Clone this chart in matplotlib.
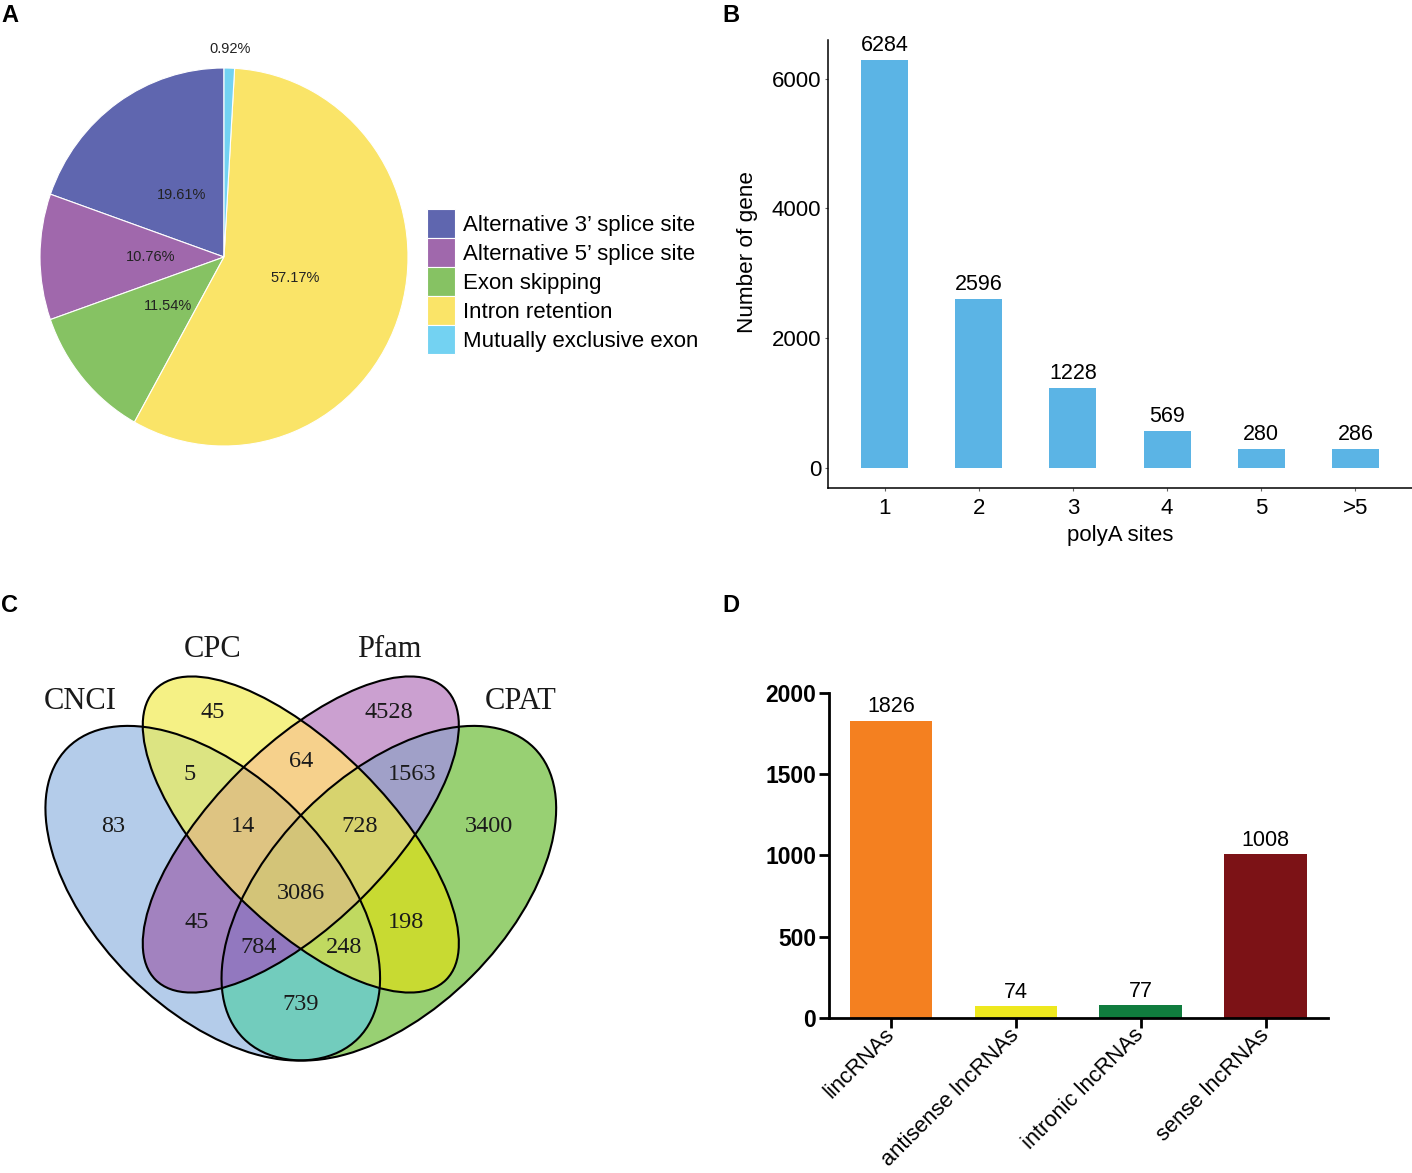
import numpy as np
import matplotlib
matplotlib.use('Agg')
import matplotlib.pyplot as plt
from matplotlib.patches import Ellipse
from matplotlib.colors import to_rgba

W, H, DPI = 1412, 1173, 100
plt.rcParams['font.family'] = ['Liberation Sans', 'DejaVu Sans']

# ---------------- data ----------------
as_types = ['Alternative 3\u2019 splice site', 'Alternative 5\u2019 splice site',
            'Exon skipping', 'Intron retention', 'Mutually exclusive exon']
as_percent = [19.61, 10.76, 11.54, 57.17, 0.92]

polya_sites = ['1', '2', '3', '4', '5', '>5']
polya_genes = [6284, 2596, 1228, 569, 280, 286]

venn_sets = ['CNCI', 'CPC', 'Pfam', 'CPAT']
venn_regions = ['1000', '0100', '0010', '0001', '1100', '0110', '0011', '1010',
                '0101', '1001', '1110', '0111', '1011', '1101', '1111']
venn_counts = [83, 45, 4528, 3400, 5, 64, 1563, 45, 198, 739, 14, 728, 784, 248, 3086]

lnc_types = ['lincRNAs', 'antisense lncRNAs', 'intronic lncRNAs', 'sense lncRNAs']
lnc_counts = [1826, 74, 77, 1008]

# ---------------- style ----------------
as_colors = ['#5F66AF', '#A068AC', '#86C263', '#FAE468', '#73D2F2']
polya_color = '#5BB4E5'
lnc_colors = ['#F48020', '#EEE81E', '#107C3E', '#7C1216']
region_colors = {
    '1000': '#B5CCEB', '0100': '#F5F185', '0010': '#CBA0D0', '0001': '#98D073',
    '1100': '#DCE482', '0110': '#F6D28C', '0011': '#A0A0C8', '1010': '#A282BF',
    '0101': '#C8DA32', '1001': '#72CCBD', '1110': '#DEC482', '0111': '#D8D46E',
    '1111': '#D4C478', '1011': '#9279BF', '1101': '#C0D960',
}
# VennDiagram quad layout (unit coordinates)
ell_centers = [(0.35, 0.47), (0.50, 0.57), (0.50, 0.57), (0.65, 0.47)]
ell_a = [0.35, 0.35, 0.35, 0.35]
ell_b = [0.20, 0.15, 0.15, 0.20]
ell_angle = [135, 135, 45, 45]
region_label_pos = {
    '1000': (0.18, 0.583), '0100': (0.35, 0.777), '0010': (0.65, 0.777), '0001': (0.82, 0.583),
    '1100': (0.31, 0.673), '0110': (0.50, 0.694), '0011': (0.69, 0.673), '1010': (0.322, 0.42),
    '0101': (0.68, 0.42), '1001': (0.50, 0.281), '1110': (0.402, 0.583), '0111': (0.60, 0.583),
    '1011': (0.428, 0.378), '1101': (0.574, 0.378), '1111': (0.50, 0.47),
}
set_label_pos = [(0.124, 0.796), (0.350, 0.885), (0.650, 0.885), (0.874, 0.796)]

fig = plt.figure(figsize=(W / DPI, H / DPI), dpi=DPI)
fig.patch.set_facecolor('white')


def px_axes(x0, y0, x1, y1):
    return fig.add_axes([x0 / W, 1 - y1 / H, (x1 - x0) / W, (y1 - y0) / H])


# ---------------- Panel A: pie ----------------
axA = px_axes(40, 68, 408, 446)
wedges, _ = axA.pie(as_percent, colors=as_colors, startangle=90, counterclock=True,
                    wedgeprops=dict(edgecolor='white', linewidth=0.8))
axA.set_aspect('auto')
axA.set_xlim(-1, 1)
axA.set_ylim(-1, 1)
axA.axis('off')
cum = 0.0
for p in as_percent:
    mid = np.deg2rad(90 + 360 * (cum + p / 2) / 100.0)
    r = 0.4 if p > 5 else 1.1
    axA.text(r * np.cos(mid), r * np.sin(mid), f'{p:.2f}%', ha='center', va='center',
             fontsize=10.5, color='#222222')
    cum += p

fig.legend(wedges, as_types, loc='upper left', bbox_to_anchor=(427 / W, 1 - 209 / H),
           bbox_transform=fig.transFigure, frameon=False, borderpad=0, borderaxespad=0,
           handlelength=1.26, handleheight=1.6, handletextpad=0.36, labelspacing=0.02,
           fontsize=16)

# ---------------- Panel B: polyA bars ----------------
axB = px_axes(828, 40, 1412, 488)
xb = np.arange(1, len(polya_genes) + 1)
axB.bar(xb, polya_genes, width=0.5, color=polya_color)
ymax = max(polya_genes)
axB.set_ylim(-0.05 * ymax, 1.05 * ymax)
axB.set_xlim(0.4, len(polya_genes) + 0.6)
axB.set_yticks([0, 2000, 4000, 6000])
axB.set_xticks(xb)
axB.set_xticklabels(polya_sites)
for s in ['top', 'right']:
    axB.spines[s].set_visible(False)
for s in ['left', 'bottom']:
    axB.spines[s].set_linewidth(1.1)
axB.tick_params(axis='both', length=2.5, width=0.8, color='#666666', labelsize=16, pad=2.5)
axB.tick_params(axis='x', pad=5)
for xi, v in zip(xb, polya_genes):
    axB.annotate(str(v), (xi, v), xytext=(0, 6.5), textcoords='offset points',
                 ha='center', va='baseline', fontsize=15.5)
axB.set_ylabel('Number of gene', fontsize=16.2, labelpad=10)
axB.yaxis.set_label_coords(-0.12, 0.527)
axB.set_xlabel('polyA sites', fontsize=16, labelpad=4)

# ---------------- Panel C: Venn ----------------
axC = px_axes(0, 590, 706, 1173)
xl = (-0.01244, 1.19029)
yl = (-0.00665, 0.98654)
axC.set_xlim(*xl)
axC.set_ylim(*yl)
axC.axis('off')
nx, ny = 1412, 1166
gx = np.linspace(xl[0], xl[1], nx)
gy = np.linspace(yl[0], yl[1], ny)
GX, GY = np.meshgrid(gx, gy)
codes = np.zeros(GX.shape, dtype=int)
for k, ((cx, cy), a, b, ang) in enumerate(zip(ell_centers, ell_a, ell_b, ell_angle)):
    t = np.deg2rad(ang)
    dx, dy = GX - cx, GY - cy
    xr = dx * np.cos(t) + dy * np.sin(t)
    yr = -dx * np.sin(t) + dy * np.cos(t)
    inside = (xr / a) ** 2 + (yr / b) ** 2 <= 1
    codes += inside.astype(int) << (3 - k)
img = np.zeros(GX.shape + (4,))
for reg in venn_regions:
    code = int(reg, 2)
    img[codes == code] = to_rgba(region_colors[reg])
axC.imshow(img, extent=(xl[0], xl[1], yl[0], yl[1]), origin='lower',
           interpolation='antialiased', aspect='auto', zorder=1)
for (cx, cy), a, b, ang in zip(ell_centers, ell_a, ell_b, ell_angle):
    axC.add_patch(Ellipse((cx, cy), 2 * a, 2 * b, angle=ang, fill=False,
                          edgecolor='black', linewidth=1.5, zorder=2))
for reg, cnt in zip(venn_regions, venn_counts):
    x, y = region_label_pos[reg]
    axC.text(x, y, str(cnt), ha='center', va='center', fontsize=17.5,
             family=['Liberation Serif', 'DejaVu Serif'], color='#1a1a1a', zorder=3)
for name, (x, y) in zip(venn_sets, set_label_pos):
    axC.text(x, y, name, ha='center', va='center', fontsize=22,
             family=['Liberation Serif', 'DejaVu Serif'], color='#1a1a1a', zorder=3)

# ---------------- Panel D: lncRNA bars ----------------
axD = px_axes(828.5, 692.5, 1328, 1018)
xd = np.arange(len(lnc_counts))
axD.bar(xd, lnc_counts, width=0.66, color=lnc_colors)
axD.set_xlim(-0.5, len(lnc_counts) - 0.5)
axD.set_ylim(0, 2000)
axD.set_yticks([0, 500, 1000, 1500, 2000])
axD.set_xticks(xd)
axD.set_xticklabels(lnc_types, rotation=45, ha='right', va='center',
                    rotation_mode='anchor', fontsize=15.8)
for s in ['top', 'right']:
    axD.spines[s].set_visible(False)
for s in ['left', 'bottom']:
    axD.spines[s].set_linewidth(2.0)
axD.tick_params(axis='both', length=7, width=2.0, color='black', pad=2)
axD.tick_params(axis='x', pad=3)
for lab in axD.get_yticklabels():
    lab.set_fontweight('bold')
    lab.set_fontsize(16.5)
for xi, v in zip(xd, lnc_counts):
    axD.annotate(str(v), (xi, v), xytext=(0, 6), textcoords='offset points',
                 ha='center', va='baseline', fontsize=15.5)

# ---------------- panel letters ----------------
for letter, (px, py) in zip('ABCD', [(10, 16), (731, 16), (10, 606), (731, 606)]):
    fig.text(px / W, 1 - py / H, letter, fontsize=17, fontweight='bold', ha='center', va='center')

fig.savefig('out.png', dpi=DPI, facecolor='white')
